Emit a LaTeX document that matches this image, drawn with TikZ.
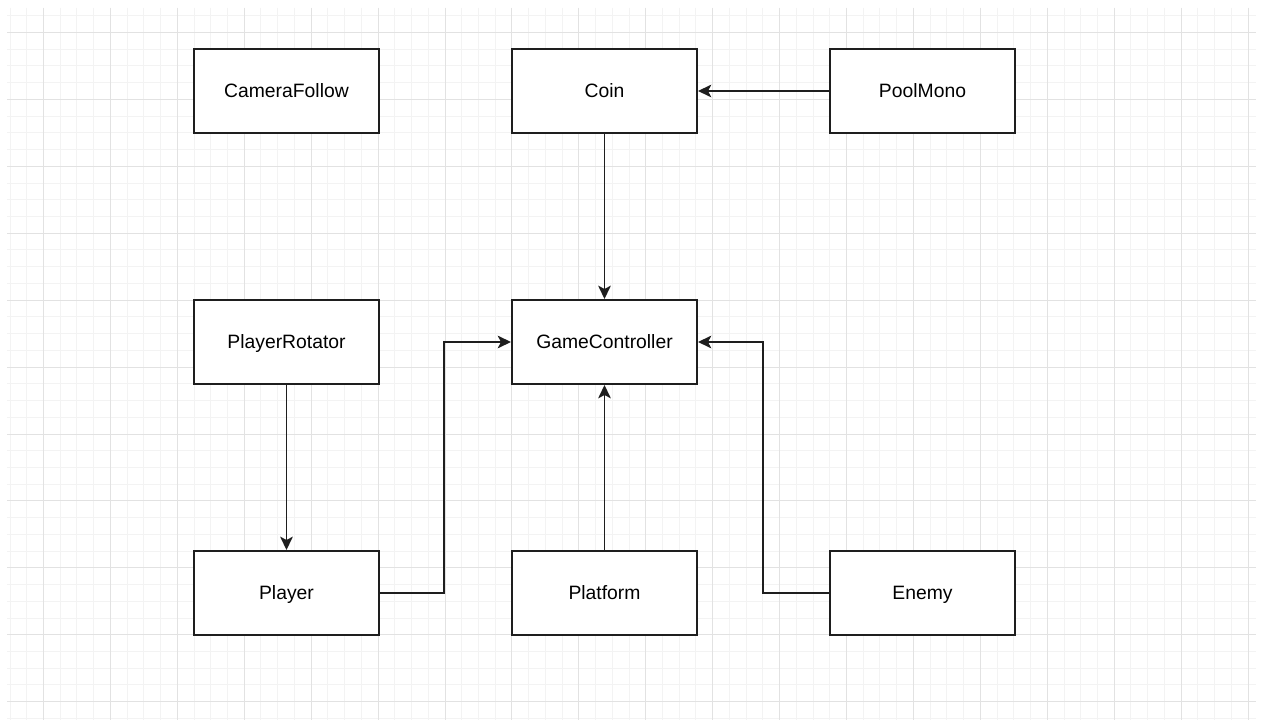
\documentclass[tikz,border=0pt]{standalone}
\usepackage{fontspec}
\setmainfont{Liberation Sans}
\usetikzlibrary{arrows.meta}
\definecolor{gmajor}{RGB}{226,226,226}
\definecolor{gminor}{RGB}{243,243,243}
\definecolor{edge}{RGB}{30,30,30}
\begin{document}
\begin{tikzpicture}[x=0.75pt,y=-0.75pt,
  cls/.style={draw=edge,line width=1.5pt,fill=white,minimum width=138.75pt,minimum height=63pt,inner sep=0pt,text height=12.3pt,text depth=2pt,font=\fontsize{14.5}{17}\selectfont,anchor=north west},
  conn/.style={draw=edge,line width=1.3pt,-{Stealth[length=10pt,width=9.5pt,inset=2.5pt]}},
  vconn/.style={conn,xshift=0.375pt},
  minorline/.style={gminor,line width=0.75pt},
  majorline/.style={gmajor,line width=0.75pt}]
\useasboundingbox (0,0) rectangle (1261,720);
\fill[white] (0,0) rectangle (1261,720);
% minor grid
\foreach \i in {0,...,74} {\draw[minorline] ({round(9.54+\i*16.73)+0.5},8) -- ({round(9.54+\i*16.73)+0.5},720);}
\foreach \j in {0,...,42} {\draw[minorline] (7,{round(15.27+\j*16.73)+0.5}) -- (1256,{round(15.27+\j*16.73)+0.5});}
% major grid
\foreach \i in {0,...,18} {\draw[majorline] ({round(43+\i*66.92)+0.5},8) -- ({round(43+\i*66.92)+0.5},720);}
\foreach \j in {0,...,10} {\draw[majorline] (7,{round(32+\j*66.92)+0.5}) -- (1256,{round(32+\j*66.92)+0.5});}
% nodes
\node[cls] (cam) at (193,48) {CameraFollow};
\node[cls] (coin) at (511,48) {Coin};
\node[cls] (pool) at (829,48) {PoolMono};
\node[cls] (rot) at (193,299) {PlayerRotator};
\node[cls] (gc) at (511,299) {GameController};
\node[cls] (player) at (193,550) {Player};
\node[cls] (plat) at (511,550) {Platform};
\node[cls] (enemy) at (829,550) {Enemy};
% connectors
\draw[vconn] (coin.south) -- (gc.north);
\draw[conn] (pool.west) -- (coin.east);
\draw[vconn] (rot.south) -- (player.north);
\draw[vconn] (plat.north) -- (gc.south);
\coordinate (pbend) at (444,0);
\coordinate (ebend) at (763,0);
\draw[conn] (player.east) -- (pbend |- player.east) -- (pbend |- gc.west) -- (gc.west);
\draw[conn] (enemy.west) -- (ebend |- enemy.west) -- (ebend |- gc.east) -- (gc.east);
\end{tikzpicture}
\end{document}
